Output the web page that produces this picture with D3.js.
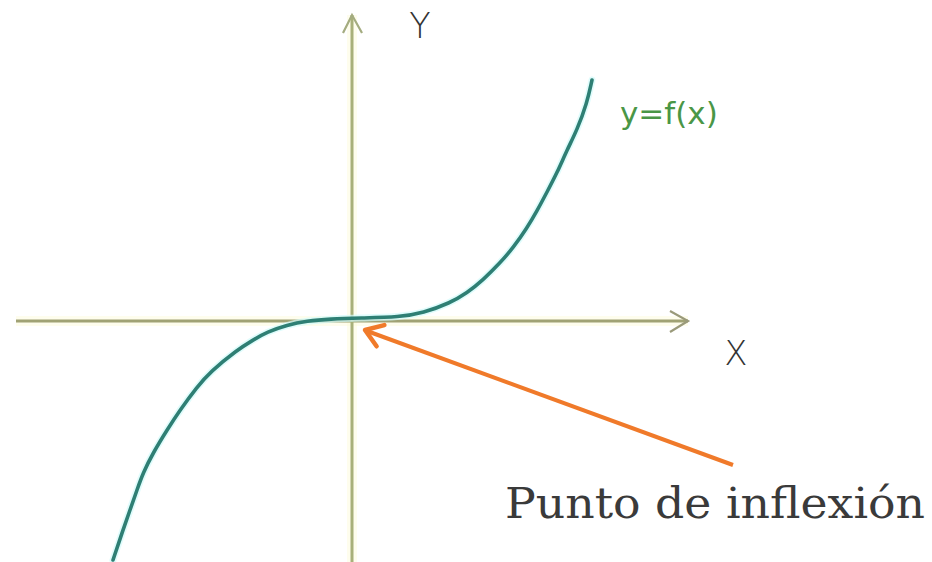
<!DOCTYPE html>
<html>
<head>
<meta charset="utf-8">
<script src="https://cdn.jsdelivr.net/npm/d3@7/dist/d3.min.js"></script>
<style>
  html, body { margin: 0; padding: 0; background: #ffffff; }
  svg { display: block; }
</style>
</head>
<body>
<svg id="chart" width="932" height="562"></svg>
<script>
// Sampled points of y = f(x) (cubic with an inflection point at the origin)
const curveX = [-2.39, -2.29, -2.22, -2.15, -2.09, -1.99, -1.85, -1.72, -1.55, -1.42,
                -1.15, -0.99, -0.85, -0.65, -0.45, -0.22, 0.08, 0.48, 0.71,
                0.98, 1.15, 1.31, 1.48, 1.61, 1.75, 1.85, 1.95, 2.05, 2.15,
                2.25, 2.35, 2.40];
const curveY = [-2.39, -2.09, -1.89, -1.69, -1.52, -1.32, -1.09, -0.89, -0.66, -0.51,
                -0.29, -0.19, -0.11, -0.04, 0.00, 0.02, 0.03, 0.04, 0.08,
                0.18, 0.28, 0.41, 0.58, 0.73, 0.93, 1.10, 1.29, 1.48, 1.71,
                1.91, 2.18, 2.41];

// Extent of the drawn coordinate axes
const xAxisExtent = [-3.36, 3.36];
const yAxisExtent = [-2.45, 3.06];

// Annotation arrow: tail (near the label) and tip (at the inflection point)
const inflectionTip = [0.13, -0.09];
const inflectionTail = [3.81, -1.44];

const labels = { x: "X", y: "Y", curve: "y=f(x)", note: "Punto de inflexión" };

const W = 932, H = 562;
const svg = d3.select("#chart");

const x = d3.scaleLinear().domain([-3.52, 5.80]).range([0, W]);
const y = d3.scaleLinear().domain([3.21, -2.41]).range([0, H]);

const axisColor = "#a0a274";
const haloColor = "#fdfbd8";

// soft glow behind axes
const axes = svg.append("g");
axes.append("line")
  .attr("x1", x(xAxisExtent[0])).attr("x2", x(xAxisExtent[1]))
  .attr("y1", y(0)).attr("y2", y(0))
  .attr("stroke", haloColor).attr("stroke-width", 10).attr("opacity", 0.45);
axes.append("line")
  .attr("x1", x(0)).attr("x2", x(0))
  .attr("y1", y(yAxisExtent[1])).attr("y2", y(yAxisExtent[0]))
  .attr("stroke", haloColor).attr("stroke-width", 10).attr("opacity", 0.45);

axes.append("line")
  .attr("x1", x(xAxisExtent[0])).attr("x2", x(xAxisExtent[1]))
  .attr("y1", y(0)).attr("y2", y(0))
  .attr("stroke", axisColor).attr("stroke-width", 3);
axes.append("line")
  .attr("x1", x(0)).attr("x2", x(0))
  .attr("y1", y(yAxisExtent[1])).attr("y2", y(yAxisExtent[0]))
  .attr("stroke", "#a8b07a").attr("stroke-width", 3);

// open chevron arrowheads on the axes
const xTip = [x(xAxisExtent[1]), y(0)];
const yTip = [x(0), y(yAxisExtent[1])];
axes.append("path")
  .attr("d", `M${xTip[0] - 18},${xTip[1] - 10} L${xTip[0]},${xTip[1]} L${xTip[0] - 18},${xTip[1] + 11}`)
  .attr("fill", "none").attr("stroke", "#9a9a7a").attr("stroke-width", 2.2);
axes.append("path")
  .attr("d", `M${yTip[0] - 9},${yTip[1] + 18} L${yTip[0]},${yTip[1]} L${yTip[0] + 10},${yTip[1] + 18}`)
  .attr("fill", "none").attr("stroke", "#a4ac80").attr("stroke-width", 2.2);

// the function curve
const pts = curveX.map((v, i) => [v, curveY[i]]);
const line = d3.line().x(d => x(d[0])).y(d => y(d[1])).curve(d3.curveBasis);
svg.append("path").datum(pts).attr("d", line)
  .attr("fill", "none").attr("stroke", "#d2fbfb").attr("stroke-width", 7)
  .attr("stroke-linecap", "round").attr("opacity", 0.7);
svg.append("path").datum(pts).attr("d", line)
  .attr("fill", "none").attr("stroke", "#2e7f74").attr("stroke-width", 3.6)
  .attr("stroke-linecap", "round").attr("stroke-linejoin", "round");

// axis and curve labels
svg.append("text").text(labels.y)
  .attr("x", 420).attr("y", 38).attr("text-anchor", "middle")
  .attr("font-family", "DejaVu Sans").attr("font-weight", 300)
  .attr("font-size", 35).attr("fill", "#333333");
svg.append("text").text(labels.x)
  .attr("x", 736).attr("y", 365).attr("text-anchor", "middle")
  .attr("font-family", "DejaVu Sans").attr("font-weight", 300)
  .attr("font-size", 34).attr("fill", "#333333");
svg.append("text").text(labels.curve)
  .attr("x", 620).attr("y", 124)
  .attr("font-family", "DejaVu Sans")
  .attr("font-size", 31).attr("fill", "#4a9646");

// annotation arrow pointing to the inflection point
const tip = [x(inflectionTip[0]), y(inflectionTip[1])];
const tail = [x(inflectionTail[0]), y(inflectionTail[1])];
const ang = Math.atan2(tail[1] - tip[1], tail[0] - tip[0]);
const headLen = 20, spread = 0.6;
const a1 = [tip[0] + headLen * Math.cos(ang - spread), tip[1] + headLen * Math.sin(ang - spread)];
const a2 = [tip[0] + headLen * Math.cos(ang + spread), tip[1] + headLen * Math.sin(ang + spread)];
const orange = "#f07a2a";
svg.append("line")
  .attr("x1", tail[0]).attr("y1", tail[1]).attr("x2", tip[0] + 2).attr("y2", tip[1] + 1)
  .attr("stroke", orange).attr("stroke-width", 4);
svg.append("path")
  .attr("d", `M${a1[0]},${a1[1]} L${tip[0]},${tip[1]} L${a2[0]},${a2[1]}`)
  .attr("fill", "none").attr("stroke", orange).attr("stroke-width", 4.5)
  .attr("stroke-linecap", "round").attr("stroke-linejoin", "round");

svg.append("text").text(labels.note)
  .attr("x", 505).attr("y", 518)
  .attr("font-family", "DejaVu Serif").attr("font-size", 43)
  .attr("textLength", 420).attr("lengthAdjust", "spacingAndGlyphs")
  .attr("fill", "#3a3a3a");
</script>
</body>
</html>
